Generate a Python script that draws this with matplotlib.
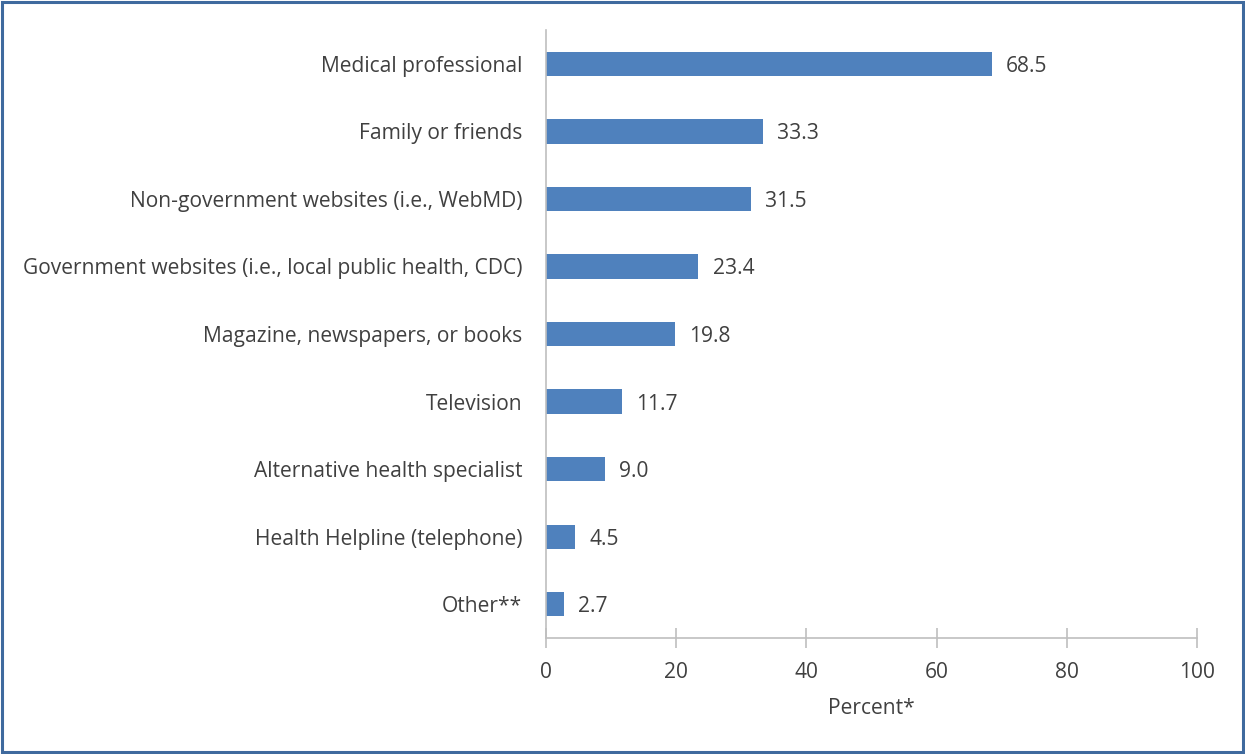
import matplotlib.pyplot as plt
from matplotlib.patches import Rectangle

categories = [
    "Medical professional",
    "Family or friends",
    "Non-government websites (i.e., WebMD)",
    "Government websites (i.e., local public health, CDC)",
    "Magazine, newspapers, or books",
    "Television",
    "Alternative health specialist",
    "Health Helpline (telephone)",
    "Other**",
]
percents = [68.5, 33.3, 31.5, 23.4, 19.8, 11.7, 9.0, 4.5, 2.7]
x_ticks = [0, 20, 40, 60, 80, 100]

plt.rcParams["font.family"] = ["Open Sans", "DejaVu Sans"]
text_col = "#404040"
axis_col = "#BFBFBF"
fs = 15.1

fig = plt.figure(figsize=(12.45, 7.54), dpi=100)
ax = fig.add_axes([0.4386, 0.1538, 0.5228, 0.8064])

pos = list(range(len(categories)))[::-1]
ax.barh(pos, percents, height=0.36, color="#4F81BD")
for p, v in zip(pos, percents):
    ax.text(v + 2.2, p, f"{v:.1f}", va="center_baseline", ha="left",
            fontsize=fs, color=text_col)

ax.set_ylim(-0.5, len(categories) - 0.5)
ax.set_xlim(0, 100)
ax.set_yticks(pos)
ax.set_yticklabels(categories, fontsize=fs, color=text_col, va="center_baseline")
ax.set_xticks(x_ticks)
ax.set_xticklabels([str(t) for t in x_ticks], fontsize=fs, color=text_col)
ax.tick_params(axis="y", length=0, pad=17)
ax.tick_params(axis="x", direction="inout", length=14, width=1.2,
               color=axis_col, pad=10)
ax.set_xlabel("Percent*", fontsize=fs, color=text_col, labelpad=11)

for s in ["top", "right"]:
    ax.spines[s].set_visible(False)
for s in ["left", "bottom"]:
    ax.spines[s].set_color(axis_col)
    ax.spines[s].set_linewidth(1.2)

fig.patches.append(Rectangle((0.002, 0.003), 0.996, 0.994, transform=fig.transFigure,
                             fill=False, edgecolor="#3F6A9E", linewidth=2.2))

fig.savefig("out.png", dpi=100)
